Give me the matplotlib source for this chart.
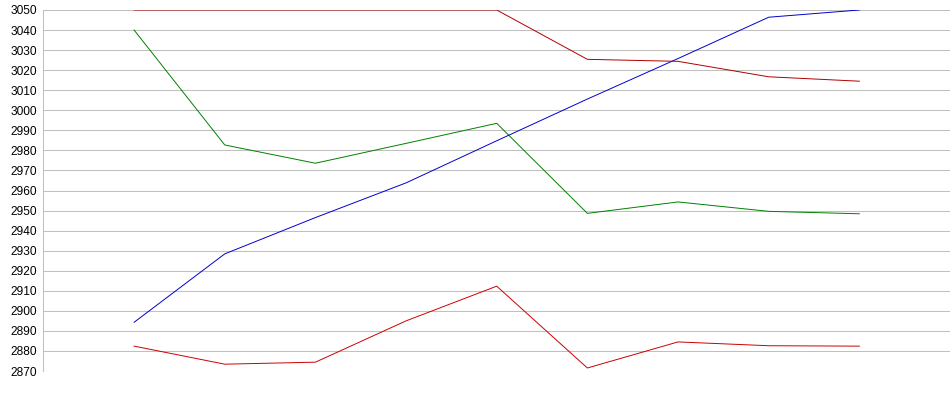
import numpy as np
import matplotlib.pyplot as plt

# Werte (9 Messpunkte, ohne Beschriftung der x-Achse)
x = np.arange(9)
rot_oben = [3050, 3050, 3050, 3050, 3050, 3025.4, 3024.4, 3016.7, 3014.5]
gruen = [3040, 2982.7, 2973.6, 2983.5, 2993.5, 2948.6, 2954.3, 2949.6, 2948.4]
blau = [2894.3, 2928.4, 2946.5, 2963.8, 2984.8, 3005.6, 3025.8, 3046.4, 3050]
rot_unten = [2882.4, 2873.4, 2874.4, 2895, 2912.3, 2871.5, 2884.5, 2882.6, 2882.4]
yticks = np.arange(2870, 3051, 10)

plt.rcParams['font.family'] = ['Liberation Sans', 'DejaVu Sans']

fig = plt.figure(figsize=(9.5, 3.95), dpi=100)
ax = fig.add_axes([43 / 950, 1 - 371 / 395, 1 - 43 / 950, 361 / 395])

for y in yticks:
    ax.axhline(y, color='#c0c0c0', lw=0.75, zorder=1)

kw = dict(lw=0.7, zorder=3)
ax.plot(x, gruen, color='#008000', **kw)
ax.plot(x, blau, color='#0000cc', **kw)
ax.plot(x, rot_unten, color='#cc0000', **kw)
ax.plot(x, rot_oben, color='#b00000', **kw)

ax.set_xlim(-1.005, 9.0)
ax.set_ylim(2870, 3050)
ax.set_yticks(yticks)
ax.set_yticklabels([str(v) for v in yticks], fontsize=8.6)
ax.set_xticks([])
ax.tick_params(axis='y', length=0, pad=4.2)

for s in ['top', 'right', 'bottom']:
    ax.spines[s].set_visible(False)
ax.spines['left'].set_color('#c0c0c0')
ax.spines['left'].set_linewidth(0.75)

fig.savefig('out.png', dpi=100)
